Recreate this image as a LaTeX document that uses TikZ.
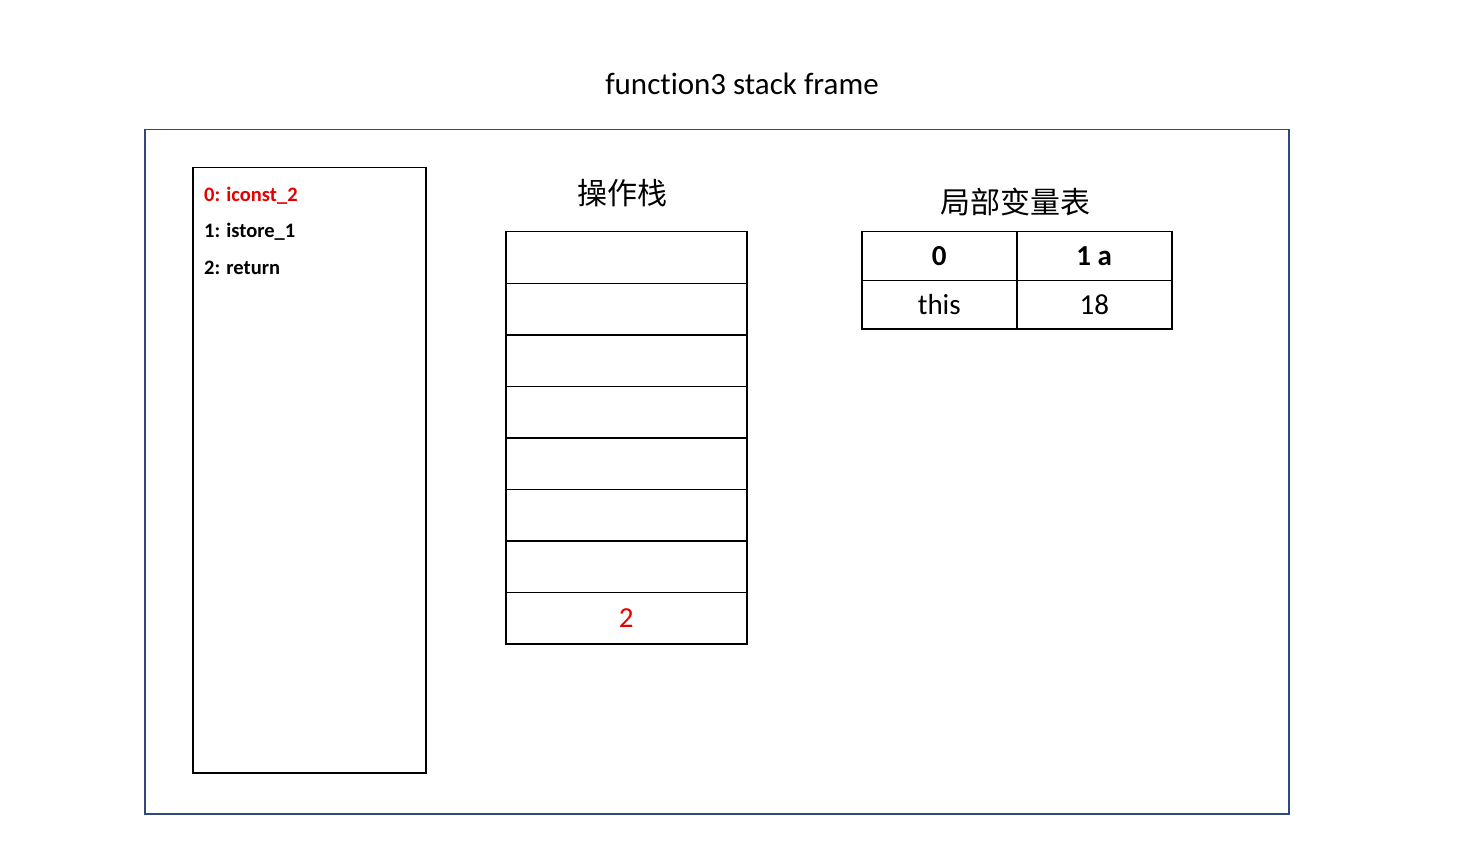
\documentclass[tikz,border=0pt]{standalone}
\usepackage{fontspec}
\setmainfont{Carlito}[Ligatures=NoCommon]
\newfontfamily\cjk{Noto Sans CJK SC}
\definecolor{framecol}{HTML}{2E4A7D}
\definecolor{redtxt}{HTML}{E60000}
\begin{document}
\begin{tikzpicture}[x=1pt,y=-1pt,
  cell/.style={draw=black,line width=1.5pt,minimum width=241pt,minimum height=51.5pt,inner sep=0pt,anchor=north west},
  tcell/.style={draw=black,line width=1.5pt,minimum width=155pt,minimum height=48.5pt,inner sep=0pt,anchor=north west,font=\fontsize{29}{32}\selectfont},
  code/.style={anchor=west,inner sep=0pt,font=\fontsize{20.5}{24}\selectfont\bfseries},
  cn/.style={inner sep=0pt,font=\cjk\fontsize{30}{34}\selectfont}]
\useasboundingbox (0,0) rectangle (1458,850);
\node[inner sep=0pt,font=\fontsize{31}{35}\selectfont] (title) at (742,84) {function3 stack frame};
\node[draw=framecol,line width=1.5pt,minimum width=1144pt,minimum height=684pt,inner sep=0pt,anchor=north west] (frame) at (144,129) {};
\node[draw=black,line width=1.5pt,minimum width=233pt,minimum height=605pt,inner sep=0pt,anchor=north west] (code) at (192,167) {};
\node[code,text=redtxt] (c0) at (204,196) {0: iconst\_2};
\node[code] (c1) at (204,232) {1: istore\_1};
\node[code] (c2) at (204,268) {2: return};
\node[cn] (stlabel) at (622,193) {操作栈};
\foreach \i in {0,...,7} {
  \node[cell] (s\i) at (505,{231+51.5*\i}) {};
}
\node[text=redtxt,font=\fontsize{29}{32}\selectfont] (v) at (s7.center) {2};
\node[cn] (lvlabel) at (1015,202) {局部变量表};
\node[tcell,font=\fontsize{29}{32}\selectfont\bfseries] (h0) at (861,231) {0};
\node[tcell,font=\fontsize{29}{32}\selectfont\bfseries] (h1) at (1016,231) {1 a};
\node[tcell] (d0) at (861,279.5) {this};
\node[tcell] (d1) at (1016,279.5) {18};
\end{tikzpicture}
\end{document}
